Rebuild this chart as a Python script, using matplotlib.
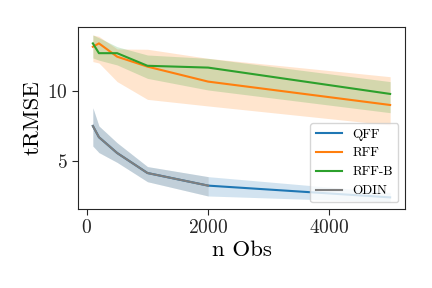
import matplotlib
matplotlib.use("Agg")
import matplotlib.pyplot as plt

plt.rcParams['font.family'] = 'serif'
plt.rcParams['font.serif'] = ['cmr10']
plt.rcParams['mathtext.fontset'] = 'cm'
plt.rcParams['axes.formatter.use_mathtext'] = True

x_full = [100, 200, 500, 1000, 2000, 5000]
x_odin = [100, 200, 500, 1000, 2000]

qff_mean = [7.5, 6.7, 5.57, 4.14, 3.24, 2.4]
qff_lo = [6.07, 5.6, 4.9, 3.52, 2.5, 2.07]
qff_hi = [8.8, 7.5, 6.3, 4.6, 3.88, 2.75]

rff_mean = [13.16, 13.4, 12.45, 11.74, 10.67, 9.0]
rff_lo = [12.1, 12.0, 10.67, 9.4, 8.93, 7.57]
rff_hi = [14.0, 13.9, 13.0, 12.98, 12.33, 11.02]

rffb_mean = [13.4, 12.7, 12.7, 11.8, 11.67, 9.79]
rffb_lo = [12.36, 12.2, 11.86, 10.9, 10.07, 8.45]
rffb_hi = [14.0, 13.8, 13.16, 12.57, 12.33, 10.67]

odin_mean = [7.5, 6.7, 5.57, 4.14, 3.24]
odin_lo = [6.07, 5.6, 4.9, 3.52, 2.5]
odin_hi = [8.8, 7.5, 6.3, 4.6, 3.88]

series = [
    ("QFF", x_full, qff_mean, qff_lo, qff_hi, "#1f77b4"),
    ("RFF", x_full, rff_mean, rff_lo, rff_hi, "#ff7f0e"),
    ("RFF-B", x_full, rffb_mean, rffb_lo, rffb_hi, "#2ca02c"),
    ("ODIN", x_odin, odin_mean, odin_lo, odin_hi, "#7f7f7f"),
]

fig = plt.figure(figsize=(4.32, 2.88), dpi=100)
ax = fig.add_axes([78/432, 1-209/288, (405-78)/432, (209-27)/288])

for name, xs, m, lo, hi, c in series:
    ax.fill_between(xs, lo, hi, color=c, alpha=0.2, linewidth=0)
    ax.plot(xs, m, color=c, lw=1.5, label=name)

ax.set_xlim(-145, 5245)
ax.set_ylim(1.57, 14.57)
ax.set_xticks([0, 2000, 4000])
ax.set_yticks([5, 10])
ax.tick_params(labelsize=14, length=4, width=0.8, colors='#262626')
for s in ax.spines.values():
    s.set_color('#262626')
    s.set_linewidth(0.8)
ax.set_xlabel("n Obs", fontsize=16.5, labelpad=2)
ax.set_ylabel("tRMSE", fontsize=16.5, labelpad=3)
ax.legend(loc='lower right', fontsize=9.5, frameon=True)

fig.savefig("out.png", dpi=100)
